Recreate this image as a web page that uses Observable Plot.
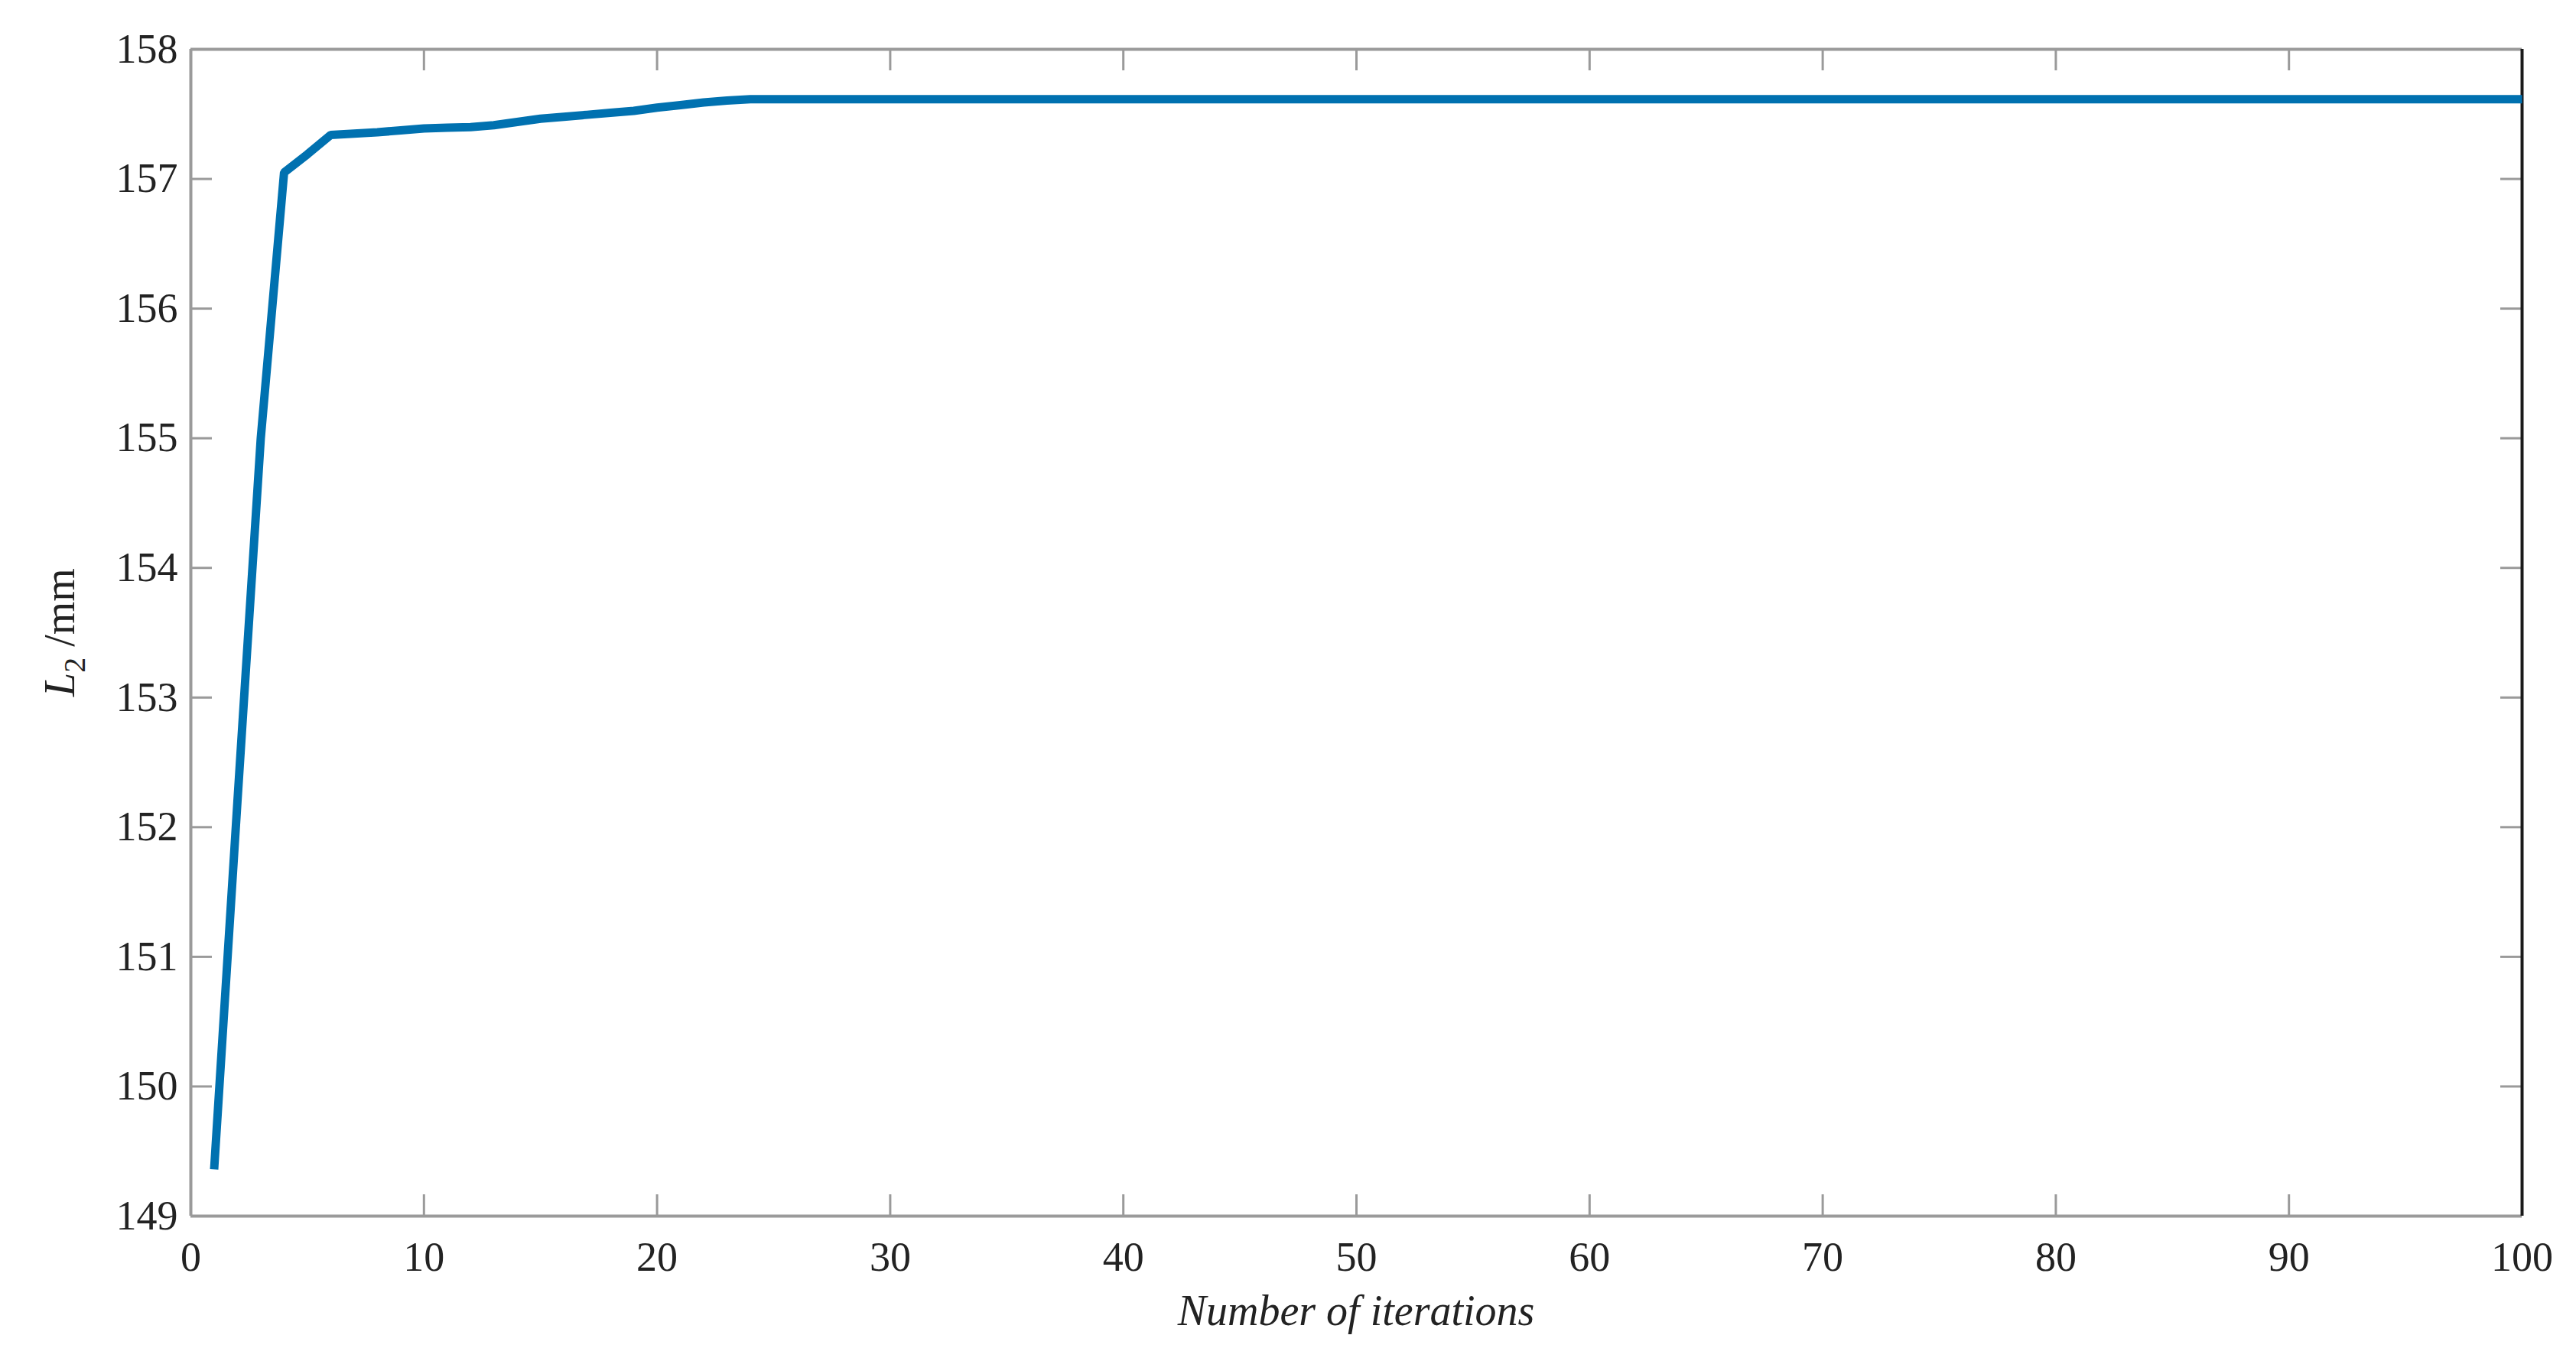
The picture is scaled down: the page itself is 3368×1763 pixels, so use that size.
<!DOCTYPE html>
<html><head><meta charset="utf-8">
<script src="https://cdn.jsdelivr.net/npm/d3@7"></script>
<script src="https://cdn.jsdelivr.net/npm/@observablehq/plot@0.6"></script>
<style>body{margin:0;background:#fff}</style>
</head><body><div id="chart"></div>
<script>
// Data
const iterations = [1, 2, 3, 4, 5, 6, 7, 8, 9, 10, 11, 12, 13, 14, 15, 16, 17, 18, 19, 20, 21, 22, 23, 24, 100];
const lengthL2   = [149.36, 152.2, 155.0, 157.05, 157.19, 157.34, 157.35, 157.36, 157.375, 157.39, 157.395, 157.40, 157.415, 157.44, 157.465, 157.48, 157.495, 157.51, 157.525, 157.55, 157.57, 157.59, 157.605, 157.615, 157.615];
const xTicks = [0, 10, 20, 30, 40, 50, 60, 70, 80, 90, 100];
const yTicks = [149, 150, 151, 152, 153, 154, 155, 156, 157, 158];
const xDomain = [0, 100];
const yDomain = [149, 158];
const xLabel = "Number of iterations";

const W = 3368, H = 1763;
const mL = 249, mR = 71, mT = 64, mB = 173;
const plotW = W - mL - mR, plotH = H - mT - mB;
const tickLen = 28;
const gray = "#9a9a9a";
const font = "'Liberation Serif','Times New Roman',serif";

const data = iterations.map((x, i) => ({x, y: lengthL2[i]}));

const chart = Plot.plot({
  width: W, height: H,
  marginLeft: mL, marginRight: mR, marginTop: mT, marginBottom: mB,
  style: {fontFamily: font, fontSize: "54px", color: "#222", background: "#fff"},
  x: {domain: xDomain, label: null},
  y: {domain: yDomain, label: null},
  marks: [
    Plot.ruleX(xTicks, {stroke: gray, strokeWidth: 3, insetTop: plotH - tickLen}),
    Plot.ruleX(xTicks, {stroke: gray, strokeWidth: 3, insetBottom: plotH - tickLen}),
    Plot.ruleY(yTicks, {stroke: gray, strokeWidth: 3, insetRight: plotW - tickLen}),
    Plot.ruleY(yTicks, {stroke: gray, strokeWidth: 3, insetLeft: plotW - tickLen}),
    Plot.ruleY([yDomain[0]], {stroke: gray, strokeWidth: 4}),
    Plot.ruleY([yDomain[1]], {stroke: gray, strokeWidth: 4}),
    Plot.ruleX([xDomain[0]], {stroke: gray, strokeWidth: 4}),
    Plot.ruleX([xDomain[1]], {stroke: "#1a1a1a", strokeWidth: 4}),
    Plot.line(data, {x: "x", y: "y", stroke: "#0071b0", strokeWidth: 11, strokeLinecap: "butt", strokeLinejoin: "miter"}),
    Plot.axisX({ticks: xTicks, tickSize: 0, tickPadding: 33, label: null, fontSize: 54, fill: "#222"}),
    Plot.axisY({ticks: yTicks, tickSize: 0, tickPadding: 17, label: null, fontSize: 54, fill: "#222"})
  ]
});

const svg = d3.select(chart);
// x axis label
svg.append("text")
  .attr("x", mL + plotW / 2)
  .attr("y", 1733)
  .attr("text-anchor", "middle")
  .attr("font-family", font)
  .attr("font-size", 56)
  .attr("font-style", "italic")
  .attr("fill", "#222")
  .text(xLabel);
// y axis label: L2 /mm
const yl = svg.append("text")
  .attr("transform", `translate(97, ${mT + plotH / 2}) rotate(-90)`)
  .attr("text-anchor", "middle")
  .attr("font-family", font)
  .attr("font-size", 56)
  .attr("fill", "#222");
yl.append("tspan").attr("font-style", "italic").text("L");
yl.append("tspan").attr("font-size", 40).attr("dy", 14).text("2");
yl.append("tspan").attr("dy", -14).text(" /mm");

document.getElementById("chart").appendChild(chart);
</script>
</body></html>
